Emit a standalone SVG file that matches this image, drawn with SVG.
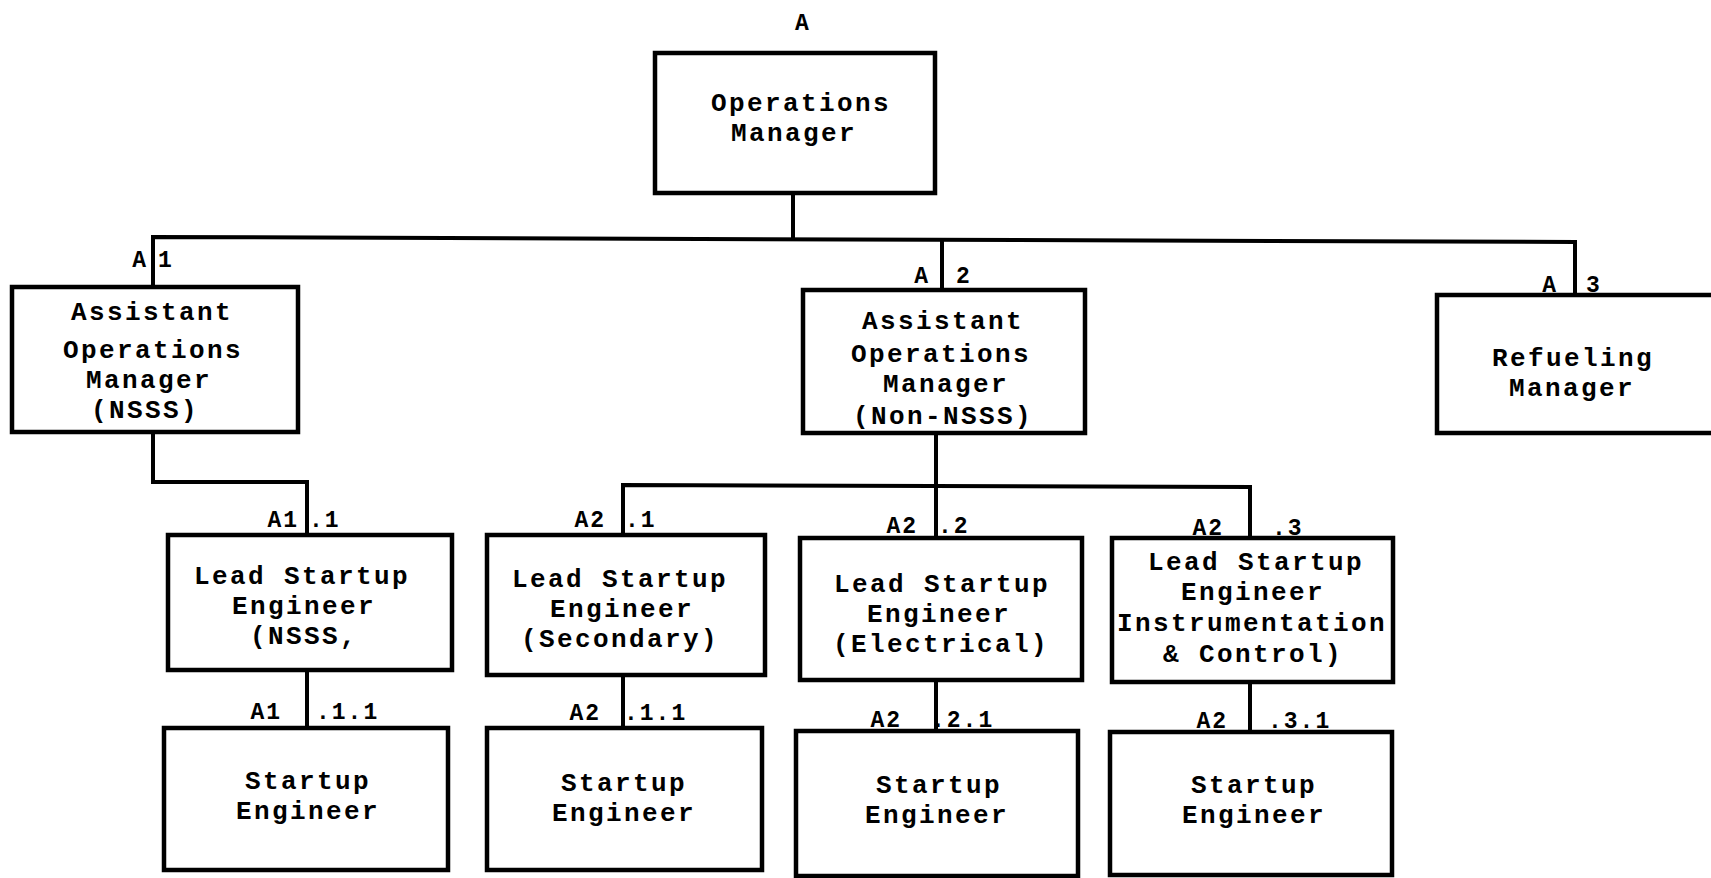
<svg xmlns="http://www.w3.org/2000/svg" width="1711" height="878" viewBox="0 0 1711 878">
  <style>
    .box { fill: #ffffff; stroke: #000000; stroke-width: 4.5; }
    .wire { fill: none; stroke: #000000; stroke-width: 4; stroke-linejoin: miter; }
    .t { font-family: "Liberation Mono", "DejaVu Sans Mono", monospace; font-size: 26px; font-weight: bold; letter-spacing: 2.4px; fill: #000000; text-anchor: middle; }
    .lbl { font-family: "Liberation Mono", "DejaVu Sans Mono", monospace; font-size: 23px; font-weight: bold; fill: #000000; letter-spacing: 2px; }
    .l { text-anchor: end; }
    .r { text-anchor: start; }
  </style>
  <rect width="1711" height="878" fill="#ffffff"/>

  <!-- connectors -->
  <g id="connectors">
    <path class="wire" d="M793 193 V238"/>
    <path class="wire" d="M153 287 V237 L1575 242 V295"/>
    <path class="wire" d="M942 239 V290"/>
    <path class="wire" d="M153 432 V482 H307 V535"/>
    <path class="wire" d="M936 433 V486"/>
    <path class="wire" d="M623 535 V485 L1250 487 V538"/>
    <path class="wire" d="M936 486 V538"/>
    <path class="wire" d="M307 670 V728"/>
    <path class="wire" d="M623 675 V728"/>
    <path class="wire" d="M936 680 V731"/>
    <path class="wire" d="M1250 682 V732"/>
  </g>

  <!-- A: Operations Manager -->
  <g id="node-a">
    <text class="lbl" x="803" y="30" text-anchor="middle">A</text>
    <rect class="box" x="655" y="53" width="280" height="140"/>
    <text class="t" x="801" y="111">Operations</text>
    <text class="t" x="794" y="141">Manager</text>
  </g>

  <!-- A1: Assistant Operations Manager (NSSS) -->
  <g id="node-a1">
    <text class="lbl l" x="148" y="267">A</text>
    <text class="lbl r" x="158" y="267">1</text>
    <rect class="box" x="12" y="287" width="286" height="145"/>
    <text class="t" x="152" y="320">Assistant</text>
    <text class="t" x="153" y="358">Operations</text>
    <text class="t" x="149" y="388">Manager</text>
    <text class="t" x="145" y="418">(NSSS)</text>
  </g>

  <!-- A2: Assistant Operations Manager (Non-NSSS) -->
  <g id="node-a2">
    <text class="lbl l" x="930" y="283">A</text>
    <text class="lbl r" x="956" y="283">2</text>
    <rect class="box" x="803" y="290" width="282" height="143"/>
    <text class="t" x="943" y="329">Assistant</text>
    <text class="t" x="941" y="362">Operations</text>
    <text class="t" x="946" y="392">Manager</text>
    <text class="t" x="943" y="424">(Non-NSSS)</text>
  </g>

  <!-- A3: Refueling Manager -->
  <g id="node-a3">
    <text class="lbl l" x="1558" y="292">A</text>
    <text class="lbl r" x="1586" y="292">3</text>
    <rect class="box" x="1437" y="295" width="290" height="138"/>
    <text class="t" x="1573" y="366">Refueling</text>
    <text class="t" x="1572" y="396">Manager</text>
  </g>

  <!-- A1.1: Lead Startup Engineer (NSSS) -->
  <g id="node-a1-1">
    <text class="lbl l" x="299" y="527">A1</text>
    <text class="lbl r" x="309" y="527">.1</text>
    <rect class="box" x="168" y="535" width="284" height="135"/>
    <text class="t" x="302" y="584">Lead Startup</text>
    <text class="t" x="304" y="614">Engineer</text>
    <text class="t" x="304" y="644">(NSSS,</text>
  </g>

  <!-- A2.1: Lead Startup Engineer (Secondary) -->
  <g id="node-a2-1">
    <text class="lbl l" x="606" y="527">A2</text>
    <text class="lbl r" x="625" y="527">.1</text>
    <rect class="box" x="487" y="535" width="278" height="140"/>
    <text class="t" x="620" y="587">Lead Startup</text>
    <text class="t" x="622" y="617">Engineer</text>
    <text class="t" x="620" y="647">(Secondary)</text>
  </g>

  <!-- A2.2: Lead Startup Engineer (Electrical) -->
  <g id="node-a2-2">
    <text class="lbl l" x="918" y="533">A2</text>
    <text class="lbl r" x="938" y="533">.2</text>
    <rect class="box" x="800" y="538" width="282" height="142"/>
    <text class="t" x="942" y="592">Lead Startup</text>
    <text class="t" x="939" y="622">Engineer</text>
    <text class="t" x="941" y="652">(Electrical)</text>
  </g>

  <!-- A2.3: Lead Startup Engineer (Instrumentation & Control) -->
  <g id="node-a2-3">
    <text class="lbl l" x="1224" y="535">A2</text>
    <text class="lbl r" x="1272" y="535">.3</text>
    <rect class="box" x="1112" y="538" width="281" height="144"/>
    <text class="t" x="1256" y="570">Lead Startup</text>
    <text class="t" x="1253" y="600">Engineer</text>
    <text class="t" x="1252" y="631">Instrumentation</text>
    <text class="t" x="1253" y="662">&amp; Control)</text>
  </g>

  <!-- A1.1.1: Startup Engineer -->
  <g id="node-a1-1-1">
    <text class="lbl l" x="282" y="719">A1</text>
    <text class="lbl r" x="316" y="719">.1.1</text>
    <rect class="box" x="164" y="728" width="284" height="142"/>
    <text class="t" x="308" y="789">Startup</text>
    <text class="t" x="308" y="819">Engineer</text>
  </g>

  <!-- A2.1.1: Startup Engineer -->
  <g id="node-a2-1-1">
    <text class="lbl l" x="601" y="720">A2</text>
    <text class="lbl r" x="624" y="720">.1.1</text>
    <rect class="box" x="487" y="728" width="275" height="142"/>
    <text class="t" x="624" y="791">Startup</text>
    <text class="t" x="624" y="821">Engineer</text>
  </g>

  <!-- A2.2.1: Startup Engineer -->
  <g id="node-a2-2-1">
    <text class="lbl l" x="902" y="727">A2</text>
    <text class="lbl r" x="931" y="727">.2.1</text>
    <rect class="box" x="796" y="731" width="282" height="145"/>
    <text class="t" x="939" y="793">Startup</text>
    <text class="t" x="937" y="823">Engineer</text>
  </g>

  <!-- A2.3.1: Startup Engineer -->
  <g id="node-a2-3-1">
    <text class="lbl l" x="1228" y="728">A2</text>
    <text class="lbl r" x="1268" y="728">.3.1</text>
    <rect class="box" x="1110" y="732" width="282" height="143"/>
    <text class="t" x="1254" y="793">Startup</text>
    <text class="t" x="1254" y="823">Engineer</text>
  </g>
</svg>
